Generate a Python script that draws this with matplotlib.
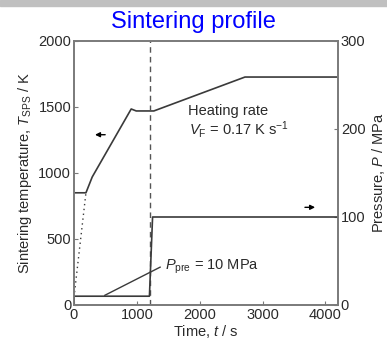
import matplotlib
matplotlib.use("Agg")
import matplotlib.pyplot as plt
from matplotlib.patches import Rectangle

plt.rcParams['font.family'] = ['Liberation Sans', 'DejaVu Sans']
plt.rcParams['mathtext.fontset'] = 'custom'
plt.rcParams['mathtext.rm'] = 'Liberation Sans'
plt.rcParams['mathtext.it'] = 'Liberation Sans:italic'
plt.rcParams['mathtext.bf'] = 'Liberation Sans:bold'

# Data
temp_t = [0, 190, 290, 910, 990, 1270, 2720, 4200]
temp_T = [850, 850, 970, 1485, 1470, 1470, 1727, 1727]
temp_est_t = [0, 190]
temp_est_T = [60, 850]
pres_t = [0, 0, 1200, 1250, 4200]
pres_P = [0, 10, 10, 100, 100]
dashed_t = 1210

title = "Sintering profile"
xticks = [0, 1000, 2000, 3000, 4000]
yticks_left = [0, 500, 1000, 1500, 2000]
yticks_right = [0, 100, 200, 300]

line_c = "#3a3a3a"
spine_c = "#7a7a7a"
text_c = "#2a2a2a"
fs = 10.5

fig = plt.figure(figsize=(3.87, 3.41), dpi=100)
fig.patches.append(Rectangle((0, 1 - 6/341), 1, 6/341, transform=fig.transFigure,
                             color="#c0c0c0", zorder=0))
ax = fig.add_axes([74/387, 1 - 305/341, (338 - 74)/387, (305 - 41)/341])
ax2 = ax.twinx()

ax.plot(temp_t, temp_T, color=line_c, lw=1.2)
ax.plot(temp_est_t, temp_est_T, color=line_c, lw=1.0, ls=(0, (1, 2.5)))
ax.axvline(dashed_t, color="#555555", lw=1.0, ls=(0, (4, 3)))
ax2.plot(pres_t, pres_P, color=line_c, lw=1.2)

ax.set_xlim(0, 4200)
ax.set_ylim(0, 2000)
ax2.set_ylim(0, 300)
ax.set_xticks(xticks)
ax.set_yticks(yticks_left)
ax2.set_yticks(yticks_right)

for a in (ax, ax2):
    for s in a.spines.values():
        s.set_color(spine_c)
        s.set_linewidth(1.2)
    a.tick_params(direction="in", length=3, color=spine_c, labelsize=fs,
                  labelcolor=text_c, pad=2)

ax.set_xlabel("Time, $t$ / s", fontsize=fs, color=text_c, labelpad=1)
ax.set_ylabel("Sintering temperature, $T_{\\mathrm{SPS}}$ / K", fontsize=fs,
              color=text_c, labelpad=3)
ax2.set_ylabel("Pressure, $P$ / MPa", fontsize=fs, color=text_c, labelpad=3)

fig.text(0.5, 1 - 22/341, title, color="blue", fontsize=17, ha="center", va="center")

# annotations
ax.annotate("", xy=(290, 1290), xytext=(540, 1290),
            arrowprops=dict(arrowstyle="-|>", color="black", lw=1.0,
                            mutation_scale=7))
ax2.annotate("", xy=(3880, 111), xytext=(3630, 111),
             arrowprops=dict(arrowstyle="-|>", color="black", lw=1.0,
                             mutation_scale=7))
ax.text(1810, 1470, "Heating rate", fontsize=fs, color=text_c, va="center")
ax.text(1830, 1330, "$V_{\\mathrm{F}}$ = 0.17 K s$^{-1}$", fontsize=fs,
        color=text_c, va="center")
ax2.plot([490, 1370], [11, 43], color=line_c, lw=1.0)
ax2.text(1450, 43, "$P_{\\mathrm{pre}}$ = 10 MPa", fontsize=fs, color=text_c,
         va="center")

fig.savefig("out.png", dpi=100)
